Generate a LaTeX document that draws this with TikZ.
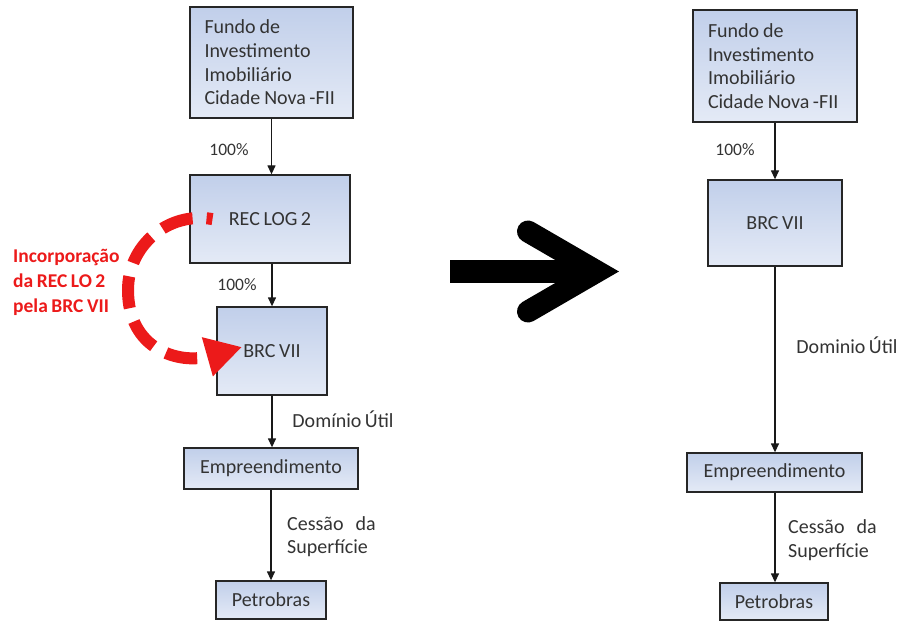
\documentclass[tikz,border=0pt]{standalone}
\usepackage{fontspec}
\setmainfont{Carlito}[WordSpace=0.8]
\usetikzlibrary{arrows.meta}
\definecolor{boxtop}{HTML}{C1CFEA}
\definecolor{boxbot}{HTML}{E4EAF6}
\definecolor{txt}{HTML}{333333}
\definecolor{redarc}{HTML}{EC1A1A}
\tikzset{
  box/.style={draw=black!85, line width=1.3pt, top color=boxtop, bottom color=boxbot,
    inner sep=0pt, text=txt, font=\fontsize{20}{23.7}\selectfont},
  lbl/.style={text=txt, font=\fontsize{20}{23.5}\selectfont, inner sep=0pt},
  pct/.style={text=txt, font=\fontsize{17.5}{20}\selectfont, inner sep=0pt},
  link/.style={line width=1.3pt, draw=black!90, -{Triangle[width=8pt,length=9pt]}},
}
\begin{document}
\begin{tikzpicture}[x=1pt,y=-1pt]
\useasboundingbox (0,0) rectangle (898,623);
% left column
\node[box, minimum width=163pt, minimum height=111pt, text width=134pt, align=left] (fundL) at (271.5,62.5) {Fundo\hspace{4pt}de\\Investimento\\Imobiliário\\\mbox{Cidade\hspace{4pt}Nova\hspace{3.5pt}-FII}};
\node[box, minimum width=160pt, minimum height=88pt] (recL) at (270,219) {REC LOG 2};
\node[box, minimum width=110pt, minimum height=88pt] (brcL) at (272,351) {BRC VII};
\node[box, minimum width=174pt, minimum height=41pt] (empL) at (271,468.5) {Empreendimento};
\node[box, minimum width=110pt, minimum height=38pt] (petL) at (271,600) {Petrobras};
\draw[link] (fundL.south) -- (fundL.south |- recL.north);
\draw[link] (recL.south -| brcL.north) -- (brcL.north);
\draw[link] (brcL.south) -- (brcL.south |- empL.north);
\draw[link] (empL.south) -- (empL.south |- petL.north);
\node[pct] (p1L) at (229,150) {100\%};
\node[pct] (p2L) at (237,285) {100\%};
\node[lbl] (duL) at (343,419) {Domínio\hspace{3.5pt}Útil};
\node[lbl, anchor=west, align=left] (csL) at (287,536.5) {Cessão\hspace{12pt}da\\Superfície};
% red incorporation arc
\node[text=redarc, font=\bfseries\fontsize{19.5}{25}\selectfont, anchor=west, align=left, inner sep=0pt] (inc) at (13,282) {Incorporação\\da REC LO 2\\pela BRC VII};
\coordinate (arcS) at (212.5,219.1);
\coordinate (arcM) at (128,290);
\coordinate (arcE) at (242,347);
\draw[redarc, line width=12pt, dash pattern=on 32pt off 14pt, dash phase=26pt,
  -{Triangle[width=38pt,length=36pt]}]
  (arcS) .. controls (168.4,211.3) and (128,245.2) .. (arcM)
         .. controls (128,350) and (179.6,364.6) .. (arcE);
% big black arrow
\fill (450,260.5) rectangle (592,283);
\draw[line width=22pt, line cap=round, line join=miter] (528,231.5) -- (597,271.5) -- (528,311.5);
% right column
\node[box, minimum width=164pt, minimum height=112pt, text width=134pt, align=left] (fundR) at (775,66) {Fundo\hspace{4pt}de\\Investimento\\Imobiliário\\\mbox{Cidade\hspace{4pt}Nova\hspace{3.5pt}-FII}};
\node[box, minimum width=134pt, minimum height=86pt] (brcR) at (775,223) {BRC VII};
\node[box, minimum width=175pt, minimum height=39pt] (empR) at (774.5,472.5) {Empreendimento};
\node[box, minimum width=108pt, minimum height=37pt] (petR) at (774,601.5) {Petrobras};
\draw[link] (fundR.south) -- (fundR.south |- brcR.north);
\draw[link] (brcR.south -| fundR.south) -- (empR.north -| fundR.south);
\draw[link] (empR.south -| fundR.south) -- (petR.north -| fundR.south);
\node[pct] (p1R) at (735,150) {100\%};
\node[lbl] (duR) at (847,345) {Dominio\hspace{3.5pt}Útil};
\node[lbl, anchor=west, align=left] (csR) at (788,540) {Cessão\hspace{12pt}da\\Superfície};
\end{tikzpicture}
\end{document}
